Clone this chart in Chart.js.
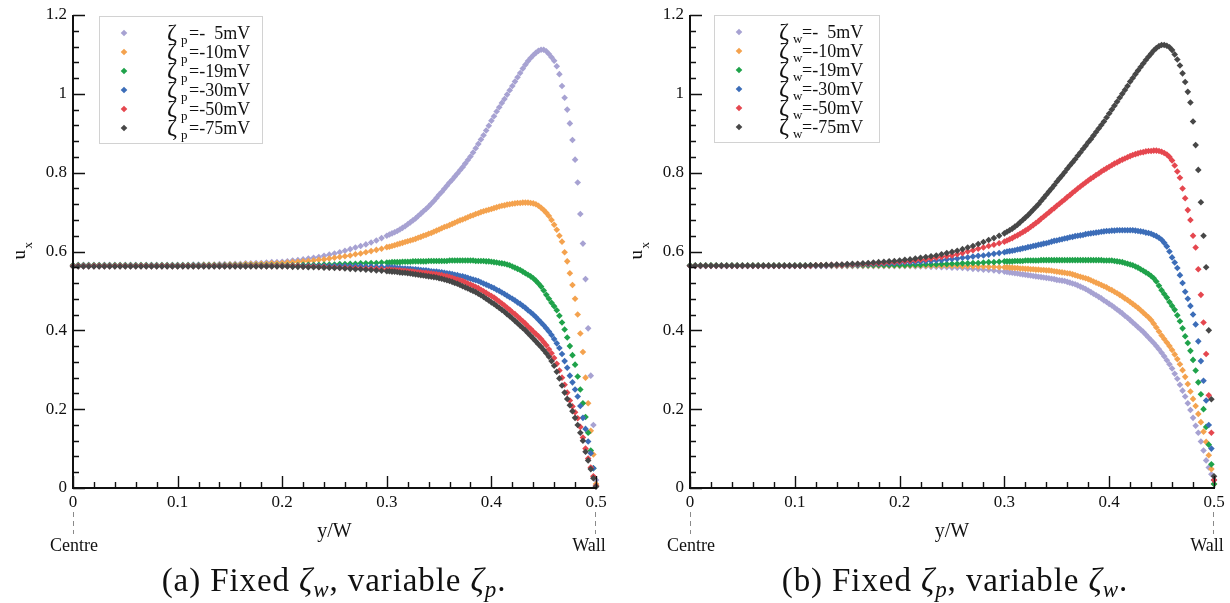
<!DOCTYPE html>
<html>
<head>
<meta charset="utf-8">
<title>Velocity profiles u_x across the half channel</title>
<script src="https://cdn.jsdelivr.net/npm/chart.js@4.4.1/dist/chart.umd.min.js"></script>
<style>
  html, body { margin: 0; padding: 0; background: #fff; }
  #wrap { position: relative; width: 1230px; height: 603px; overflow: hidden;
          font-family: "Liberation Serif", "Times New Roman", serif; color: #111; }
  canvas { position: absolute; top: 0; }
  #cA { left: 0; }
  #cB { left: 615px; }
  .cap { position: absolute; top: 562px; font-size: 33px; line-height: 36px; letter-spacing: 0.9px;
         white-space: nowrap; transform: translateX(-50%); }
  .cap sub { font-size: 23px; line-height: 0; vertical-align: -6px; }
</style>
</head>
<body>
<div id="wrap">
  <canvas id="cA" width="615" height="565"></canvas>
  <canvas id="cB" width="615" height="565"></canvas>
  <div class="cap" style="left:334px">(a) Fixed <i>ζ<sub>w</sub></i>, variable <i>ζ<sub>p</sub></i>.</div>
  <div class="cap" style="left:955px">(b) Fixed <i>ζ<sub>p</sub></i>, variable <i>ζ<sub>w</sub></i>.</div>
</div>
<script>
// y/W positions of the samples (finer from 0.3 to the wall)
const xGrid = [
  0, 0.005, 0.01, 0.015, 0.02, 0.025, 0.03, 0.035, 0.04, 0.045,
  0.05, 0.055, 0.06, 0.065, 0.07, 0.075, 0.08, 0.085, 0.09, 0.095,
  0.1, 0.105, 0.11, 0.115, 0.12, 0.125, 0.13, 0.135, 0.14, 0.145,
  0.15, 0.155, 0.16, 0.165, 0.17, 0.175, 0.18, 0.185, 0.19, 0.195,
  0.2, 0.205, 0.21, 0.215, 0.22, 0.225, 0.23, 0.235, 0.24, 0.245,
  0.25, 0.255, 0.26, 0.265, 0.27, 0.275, 0.28, 0.285, 0.29, 0.295,
  0.3, 0.3025, 0.305, 0.3075, 0.31, 0.3125, 0.315, 0.3175, 0.32, 0.3225,
  0.325, 0.3275, 0.33, 0.3325, 0.335, 0.3375, 0.34, 0.3425, 0.345, 0.3475,
  0.35, 0.3525, 0.355, 0.3575, 0.36, 0.3625, 0.365, 0.3675, 0.37, 0.3725,
  0.375, 0.3775, 0.38, 0.3825, 0.385, 0.3875, 0.39, 0.3925, 0.395, 0.3975,
  0.4, 0.4025, 0.405, 0.4075, 0.41, 0.4125, 0.415, 0.4175, 0.42, 0.4225,
  0.425, 0.4275, 0.43, 0.4325, 0.435, 0.4375, 0.44, 0.4425, 0.445, 0.4475,
  0.45, 0.4525, 0.455, 0.4575, 0.46, 0.4625, 0.465, 0.4675, 0.47, 0.4725,
  0.475, 0.4775, 0.48, 0.4825, 0.485, 0.4875, 0.49, 0.4925, 0.495, 0.4975,
  0.5,
];

const seriesLabels = ["-  5mV", "-10mV", "-19mV", "-30mV", "-50mV", "-75mV"];
const xTicks = [0, 0.1, 0.2, 0.3, 0.4, 0.5];
const xTickLabels = ["0", "0.1", "0.2", "0.3", "0.4", "0.5"];
const yTicks = [0, 0.2, 0.4, 0.6, 0.8, 1, 1.2];
const yTickLabels = ["0", "0.2", "0.4", "0.6", "0.8", "1", "1.2"];

// (a) fixed zeta_w, variable zeta_p
const aP5 = [
  0.566, 0.566, 0.566, 0.566, 0.566, 0.566, 0.566, 0.566, 0.566, 0.566,
  0.566, 0.566, 0.566, 0.566, 0.566, 0.566, 0.566, 0.566, 0.566, 0.566,
  0.566, 0.566, 0.566, 0.567, 0.567, 0.567, 0.567, 0.567, 0.568, 0.568,
  0.568, 0.569, 0.569, 0.570, 0.570, 0.571, 0.571, 0.572, 0.573, 0.573,
  0.574, 0.575, 0.577, 0.578, 0.580, 0.582, 0.584, 0.586, 0.589, 0.592,
  0.595, 0.598, 0.602, 0.606, 0.610, 0.614, 0.618, 0.623, 0.628, 0.634,
  0.640, 0.643, 0.646, 0.649, 0.652, 0.656, 0.660, 0.664, 0.669, 0.674,
  0.679, 0.684, 0.690, 0.696, 0.702, 0.708, 0.714, 0.721, 0.728, 0.736,
  0.744, 0.751, 0.759, 0.767, 0.775, 0.782, 0.790, 0.798, 0.806, 0.814,
  0.823, 0.832, 0.841, 0.851, 0.862, 0.873, 0.884, 0.895, 0.907, 0.919,
  0.932, 0.943, 0.955, 0.966, 0.977, 0.987, 0.998, 1.009, 1.020, 1.031,
  1.042, 1.053, 1.064, 1.074, 1.083, 1.091, 1.098, 1.104, 1.109, 1.112,
  1.112, 1.108, 1.101, 1.093, 1.084, 1.070, 1.050, 1.020, 0.990, 0.960,
  0.925, 0.883, 0.833, 0.775, 0.695, 0.620, 0.530, 0.405, 0.285, 0.160,
  0.020,
];
const aP10 = [
  0.565, 0.565, 0.565, 0.565, 0.565, 0.565, 0.565, 0.565, 0.565, 0.565,
  0.565, 0.565, 0.565, 0.565, 0.565, 0.565, 0.565, 0.565, 0.565, 0.565,
  0.565, 0.565, 0.565, 0.565, 0.565, 0.566, 0.566, 0.566, 0.566, 0.566,
  0.567, 0.567, 0.567, 0.568, 0.568, 0.568, 0.569, 0.569, 0.570, 0.570,
  0.571, 0.572, 0.573, 0.574, 0.575, 0.576, 0.577, 0.579, 0.580, 0.582,
  0.584, 0.586, 0.588, 0.590, 0.593, 0.595, 0.598, 0.601, 0.604, 0.607,
  0.611, 0.612, 0.614, 0.616, 0.618, 0.620, 0.622, 0.624, 0.626, 0.628,
  0.630, 0.632, 0.635, 0.637, 0.640, 0.642, 0.645, 0.647, 0.650, 0.653,
  0.656, 0.659, 0.662, 0.664, 0.667, 0.670, 0.673, 0.676, 0.679, 0.681,
  0.684, 0.687, 0.690, 0.692, 0.695, 0.697, 0.700, 0.702, 0.704, 0.706,
  0.708, 0.710, 0.712, 0.714, 0.716, 0.717, 0.719, 0.720, 0.721, 0.722,
  0.723, 0.723, 0.724, 0.724, 0.724, 0.723, 0.722, 0.720, 0.716, 0.711,
  0.705, 0.698, 0.690, 0.680, 0.668, 0.655, 0.640, 0.625, 0.598, 0.575,
  0.545, 0.515, 0.480, 0.440, 0.392, 0.345, 0.280, 0.215, 0.145, 0.085,
  0.010,
];
const aP19 = [
  0.565, 0.565, 0.565, 0.565, 0.565, 0.565, 0.565, 0.565, 0.565, 0.565,
  0.565, 0.565, 0.565, 0.565, 0.565, 0.565, 0.565, 0.565, 0.565, 0.565,
  0.565, 0.565, 0.565, 0.565, 0.565, 0.565, 0.565, 0.565, 0.565, 0.565,
  0.565, 0.565, 0.565, 0.565, 0.565, 0.565, 0.565, 0.565, 0.565, 0.565,
  0.565, 0.565, 0.565, 0.565, 0.566, 0.566, 0.566, 0.566, 0.567, 0.567,
  0.567, 0.568, 0.568, 0.569, 0.569, 0.570, 0.570, 0.571, 0.571, 0.572,
  0.572, 0.572, 0.573, 0.573, 0.573, 0.573, 0.574, 0.574, 0.574, 0.574,
  0.575, 0.575, 0.575, 0.575, 0.575, 0.575, 0.576, 0.576, 0.576, 0.576,
  0.576, 0.576, 0.576, 0.576, 0.577, 0.577, 0.577, 0.577, 0.577, 0.577,
  0.577, 0.577, 0.577, 0.577, 0.576, 0.576, 0.576, 0.576, 0.575, 0.575,
  0.574, 0.573, 0.572, 0.571, 0.570, 0.569, 0.567, 0.565, 0.562, 0.559,
  0.556, 0.553, 0.549, 0.545, 0.541, 0.537, 0.532, 0.526, 0.519, 0.511,
  0.501, 0.490, 0.480, 0.470, 0.461, 0.451, 0.437, 0.420, 0.402, 0.382,
  0.360, 0.337, 0.313, 0.283, 0.250, 0.215, 0.180, 0.140, 0.095, 0.050,
  0.005,
];
const aP30 = [
  0.564, 0.564, 0.564, 0.564, 0.564, 0.564, 0.564, 0.564, 0.564, 0.564,
  0.564, 0.564, 0.564, 0.564, 0.564, 0.564, 0.564, 0.564, 0.564, 0.564,
  0.564, 0.564, 0.564, 0.564, 0.564, 0.564, 0.564, 0.564, 0.564, 0.564,
  0.564, 0.564, 0.564, 0.564, 0.564, 0.564, 0.564, 0.564, 0.564, 0.564,
  0.564, 0.564, 0.564, 0.564, 0.564, 0.564, 0.564, 0.564, 0.564, 0.564,
  0.564, 0.564, 0.564, 0.563, 0.563, 0.563, 0.562, 0.562, 0.561, 0.561,
  0.560, 0.560, 0.559, 0.559, 0.558, 0.558, 0.557, 0.557, 0.556, 0.556,
  0.555, 0.555, 0.554, 0.553, 0.552, 0.552, 0.551, 0.550, 0.549, 0.549,
  0.548, 0.547, 0.546, 0.545, 0.544, 0.543, 0.541, 0.540, 0.538, 0.537,
  0.535, 0.533, 0.531, 0.529, 0.527, 0.525, 0.522, 0.519, 0.516, 0.513,
  0.510, 0.507, 0.503, 0.500, 0.496, 0.492, 0.488, 0.484, 0.480, 0.476,
  0.471, 0.467, 0.462, 0.457, 0.451, 0.446, 0.440, 0.434, 0.427, 0.420,
  0.413, 0.405, 0.397, 0.388, 0.378, 0.367, 0.355, 0.340, 0.322, 0.305,
  0.285, 0.268, 0.250, 0.232, 0.208, 0.178, 0.150, 0.118, 0.088, 0.050,
  0.005,
];
const aP50 = [
  0.563, 0.563, 0.563, 0.563, 0.563, 0.563, 0.563, 0.563, 0.563, 0.563,
  0.563, 0.563, 0.563, 0.563, 0.563, 0.563, 0.563, 0.563, 0.563, 0.563,
  0.563, 0.563, 0.563, 0.563, 0.563, 0.563, 0.563, 0.563, 0.563, 0.563,
  0.563, 0.563, 0.563, 0.563, 0.563, 0.563, 0.563, 0.563, 0.563, 0.563,
  0.563, 0.563, 0.563, 0.563, 0.562, 0.562, 0.562, 0.561, 0.561, 0.560,
  0.560, 0.559, 0.559, 0.558, 0.558, 0.557, 0.557, 0.556, 0.556, 0.555,
  0.554, 0.554, 0.553, 0.553, 0.552, 0.552, 0.551, 0.551, 0.550, 0.550,
  0.549, 0.548, 0.547, 0.547, 0.546, 0.546, 0.545, 0.544, 0.543, 0.542,
  0.541, 0.540, 0.538, 0.537, 0.535, 0.533, 0.531, 0.529, 0.527, 0.525,
  0.522, 0.519, 0.516, 0.513, 0.510, 0.507, 0.503, 0.499, 0.495, 0.491,
  0.487, 0.483, 0.478, 0.473, 0.468, 0.463, 0.457, 0.452, 0.446, 0.441,
  0.435, 0.429, 0.423, 0.417, 0.410, 0.404, 0.397, 0.391, 0.385, 0.378,
  0.370, 0.362, 0.352, 0.342, 0.330, 0.315, 0.298, 0.280, 0.262, 0.242,
  0.222, 0.207, 0.192, 0.177, 0.155, 0.128, 0.100, 0.075, 0.052, 0.030,
  0.005,
];
const aP75 = [
  0.562, 0.562, 0.562, 0.562, 0.562, 0.562, 0.562, 0.562, 0.562, 0.562,
  0.562, 0.562, 0.562, 0.562, 0.562, 0.562, 0.562, 0.562, 0.562, 0.562,
  0.562, 0.562, 0.562, 0.562, 0.562, 0.562, 0.562, 0.562, 0.562, 0.562,
  0.562, 0.562, 0.562, 0.562, 0.562, 0.562, 0.562, 0.562, 0.562, 0.562,
  0.562, 0.562, 0.561, 0.561, 0.561, 0.560, 0.560, 0.560, 0.559, 0.559,
  0.558, 0.558, 0.557, 0.556, 0.555, 0.555, 0.554, 0.553, 0.552, 0.551,
  0.550, 0.550, 0.549, 0.549, 0.548, 0.547, 0.546, 0.546, 0.545, 0.544,
  0.543, 0.542, 0.541, 0.540, 0.539, 0.538, 0.537, 0.536, 0.535, 0.534,
  0.532, 0.531, 0.529, 0.527, 0.525, 0.523, 0.520, 0.518, 0.515, 0.512,
  0.509, 0.506, 0.503, 0.500, 0.497, 0.493, 0.489, 0.485, 0.480, 0.476,
  0.471, 0.467, 0.462, 0.457, 0.452, 0.447, 0.441, 0.436, 0.430, 0.424,
  0.418, 0.412, 0.406, 0.400, 0.393, 0.386, 0.379, 0.372, 0.365, 0.358,
  0.350, 0.342, 0.333, 0.322, 0.310, 0.295, 0.278, 0.260, 0.242, 0.226,
  0.210, 0.195, 0.178, 0.160, 0.140, 0.120, 0.092, 0.070, 0.048, 0.025,
  0.003,
];

// (b) fixed zeta_p, variable zeta_w
const bW5 = [
  0.563, 0.563, 0.563, 0.563, 0.563, 0.563, 0.563, 0.563, 0.563, 0.563,
  0.563, 0.563, 0.563, 0.563, 0.563, 0.563, 0.563, 0.563, 0.563, 0.563,
  0.563, 0.563, 0.563, 0.563, 0.563, 0.563, 0.563, 0.563, 0.563, 0.563,
  0.563, 0.563, 0.563, 0.563, 0.563, 0.563, 0.563, 0.563, 0.563, 0.563,
  0.563, 0.563, 0.563, 0.562, 0.562, 0.562, 0.561, 0.561, 0.560, 0.560,
  0.559, 0.559, 0.558, 0.557, 0.556, 0.555, 0.554, 0.553, 0.552, 0.550,
  0.549, 0.548, 0.547, 0.546, 0.545, 0.544, 0.543, 0.542, 0.541, 0.540,
  0.539, 0.538, 0.537, 0.536, 0.535, 0.534, 0.533, 0.532, 0.531, 0.530,
  0.528, 0.527, 0.526, 0.525, 0.523, 0.521, 0.519, 0.517, 0.514, 0.511,
  0.508, 0.505, 0.501, 0.497, 0.493, 0.489, 0.485, 0.481, 0.476, 0.472,
  0.467, 0.463, 0.458, 0.453, 0.448, 0.443, 0.437, 0.432, 0.426, 0.420,
  0.414, 0.408, 0.402, 0.396, 0.389, 0.382, 0.375, 0.368, 0.360, 0.352,
  0.343, 0.334, 0.324, 0.314, 0.303, 0.290, 0.277, 0.262, 0.247, 0.232,
  0.215, 0.198, 0.178, 0.158, 0.140, 0.118, 0.095, 0.070, 0.052, 0.035,
  0.010,
];
const bW10 = [
  0.564, 0.564, 0.564, 0.564, 0.564, 0.564, 0.564, 0.564, 0.564, 0.564,
  0.564, 0.564, 0.564, 0.564, 0.564, 0.564, 0.564, 0.564, 0.564, 0.564,
  0.564, 0.564, 0.564, 0.564, 0.564, 0.564, 0.564, 0.564, 0.564, 0.564,
  0.564, 0.564, 0.564, 0.564, 0.564, 0.564, 0.564, 0.564, 0.564, 0.564,
  0.564, 0.564, 0.564, 0.564, 0.564, 0.564, 0.564, 0.564, 0.564, 0.564,
  0.564, 0.564, 0.563, 0.563, 0.563, 0.562, 0.562, 0.561, 0.561, 0.560,
  0.560, 0.560, 0.559, 0.559, 0.558, 0.558, 0.557, 0.557, 0.556, 0.556,
  0.555, 0.555, 0.554, 0.554, 0.553, 0.553, 0.552, 0.552, 0.551, 0.550,
  0.549, 0.548, 0.547, 0.546, 0.545, 0.544, 0.542, 0.540, 0.538, 0.536,
  0.534, 0.532, 0.530, 0.527, 0.524, 0.521, 0.518, 0.515, 0.512, 0.509,
  0.505, 0.502, 0.498, 0.494, 0.490, 0.486, 0.481, 0.477, 0.472, 0.467,
  0.462, 0.457, 0.451, 0.445, 0.439, 0.433, 0.426, 0.417, 0.407, 0.397,
  0.387, 0.378, 0.369, 0.360, 0.350, 0.339, 0.327, 0.314, 0.299, 0.282,
  0.264, 0.245, 0.226, 0.208, 0.188, 0.167, 0.143, 0.117, 0.083, 0.048,
  0.010,
];
const bW19 = [
  0.565, 0.565, 0.565, 0.565, 0.565, 0.565, 0.565, 0.565, 0.565, 0.565,
  0.565, 0.565, 0.565, 0.565, 0.565, 0.565, 0.565, 0.565, 0.565, 0.565,
  0.565, 0.565, 0.565, 0.565, 0.565, 0.565, 0.565, 0.565, 0.565, 0.565,
  0.565, 0.565, 0.565, 0.565, 0.565, 0.565, 0.565, 0.565, 0.565, 0.565,
  0.565, 0.565, 0.566, 0.566, 0.566, 0.567, 0.567, 0.567, 0.568, 0.568,
  0.569, 0.569, 0.570, 0.570, 0.571, 0.571, 0.572, 0.573, 0.573, 0.574,
  0.575, 0.575, 0.575, 0.575, 0.576, 0.576, 0.576, 0.576, 0.577, 0.577,
  0.577, 0.577, 0.577, 0.577, 0.578, 0.578, 0.578, 0.578, 0.578, 0.578,
  0.578, 0.578, 0.578, 0.578, 0.578, 0.578, 0.578, 0.578, 0.578, 0.578,
  0.578, 0.578, 0.578, 0.578, 0.578, 0.578, 0.578, 0.578, 0.577, 0.577,
  0.577, 0.577, 0.576, 0.575, 0.574, 0.573, 0.571, 0.569, 0.567, 0.565,
  0.562, 0.559, 0.555, 0.551, 0.547, 0.543, 0.538, 0.532, 0.524, 0.513,
  0.502, 0.492, 0.483, 0.472, 0.462, 0.452, 0.438, 0.423, 0.405, 0.385,
  0.368, 0.348, 0.325, 0.298, 0.268, 0.238, 0.200, 0.155, 0.110, 0.060,
  0.010,
];
const bW30 = [
  0.564, 0.564, 0.564, 0.564, 0.564, 0.564, 0.564, 0.564, 0.564, 0.564,
  0.564, 0.564, 0.564, 0.564, 0.564, 0.564, 0.564, 0.564, 0.564, 0.564,
  0.564, 0.564, 0.564, 0.564, 0.564, 0.564, 0.564, 0.565, 0.565, 0.565,
  0.566, 0.566, 0.566, 0.567, 0.567, 0.568, 0.568, 0.569, 0.569, 0.570,
  0.571, 0.572, 0.572, 0.573, 0.574, 0.575, 0.576, 0.577, 0.578, 0.580,
  0.581, 0.582, 0.584, 0.585, 0.587, 0.589, 0.590, 0.592, 0.594, 0.596,
  0.598, 0.600, 0.601, 0.602, 0.603, 0.605, 0.606, 0.608, 0.609, 0.611,
  0.612, 0.614, 0.615, 0.617, 0.618, 0.620, 0.621, 0.623, 0.625, 0.627,
  0.628, 0.630, 0.631, 0.633, 0.634, 0.636, 0.637, 0.639, 0.640, 0.641,
  0.642, 0.644, 0.645, 0.646, 0.647, 0.648, 0.649, 0.650, 0.651, 0.652,
  0.652, 0.653, 0.653, 0.654, 0.654, 0.654, 0.654, 0.654, 0.654, 0.654,
  0.653, 0.652, 0.651, 0.650, 0.648, 0.647, 0.645, 0.642, 0.639, 0.635,
  0.630, 0.622, 0.613, 0.600, 0.585, 0.572, 0.558, 0.540, 0.520, 0.498,
  0.480, 0.462, 0.440, 0.415, 0.372, 0.322, 0.272, 0.222, 0.160, 0.100,
  0.020,
];
const bW50 = [
  0.564, 0.564, 0.564, 0.564, 0.564, 0.564, 0.564, 0.564, 0.564, 0.564,
  0.564, 0.564, 0.564, 0.564, 0.564, 0.564, 0.564, 0.564, 0.564, 0.564,
  0.564, 0.564, 0.564, 0.564, 0.565, 0.565, 0.565, 0.566, 0.566, 0.566,
  0.567, 0.567, 0.568, 0.568, 0.569, 0.570, 0.570, 0.571, 0.572, 0.573,
  0.574, 0.575, 0.576, 0.577, 0.579, 0.580, 0.582, 0.584, 0.586, 0.588,
  0.590, 0.593, 0.596, 0.600, 0.603, 0.607, 0.610, 0.614, 0.617, 0.621,
  0.625, 0.628, 0.631, 0.634, 0.638, 0.641, 0.645, 0.649, 0.653, 0.657,
  0.662, 0.667, 0.672, 0.677, 0.683, 0.688, 0.694, 0.699, 0.705, 0.710,
  0.716, 0.721, 0.727, 0.732, 0.738, 0.743, 0.749, 0.754, 0.760, 0.765,
  0.770, 0.775, 0.780, 0.785, 0.789, 0.794, 0.798, 0.803, 0.807, 0.811,
  0.815, 0.819, 0.823, 0.826, 0.830, 0.833, 0.836, 0.839, 0.842, 0.845,
  0.847, 0.849, 0.851, 0.852, 0.854, 0.855, 0.855, 0.856, 0.856, 0.855,
  0.853, 0.850, 0.846, 0.840, 0.831, 0.818, 0.803, 0.787, 0.760, 0.735,
  0.705, 0.680, 0.640, 0.610, 0.555, 0.490, 0.420, 0.340, 0.235, 0.140,
  0.020,
];
const bW75 = [
  0.564, 0.564, 0.564, 0.564, 0.564, 0.564, 0.564, 0.564, 0.564, 0.564,
  0.564, 0.564, 0.564, 0.564, 0.564, 0.564, 0.564, 0.564, 0.564, 0.564,
  0.564, 0.564, 0.564, 0.565, 0.565, 0.565, 0.566, 0.566, 0.567, 0.567,
  0.568, 0.569, 0.569, 0.570, 0.571, 0.572, 0.573, 0.574, 0.575, 0.576,
  0.577, 0.579, 0.580, 0.582, 0.584, 0.586, 0.588, 0.590, 0.593, 0.596,
  0.599, 0.602, 0.606, 0.610, 0.614, 0.619, 0.624, 0.629, 0.634, 0.640,
  0.646, 0.650, 0.654, 0.658, 0.663, 0.668, 0.674, 0.680, 0.686, 0.692,
  0.699, 0.706, 0.713, 0.720, 0.728, 0.736, 0.744, 0.752, 0.760, 0.768,
  0.777, 0.785, 0.793, 0.801, 0.810, 0.818, 0.826, 0.834, 0.843, 0.851,
  0.860, 0.868, 0.877, 0.885, 0.894, 0.903, 0.912, 0.921, 0.930, 0.940,
  0.950, 0.960, 0.970, 0.980, 0.990, 1.000, 1.010, 1.020, 1.031, 1.040,
  1.050, 1.059, 1.068, 1.077, 1.086, 1.094, 1.102, 1.110, 1.116, 1.121,
  1.124, 1.124, 1.122, 1.118, 1.111, 1.100, 1.087, 1.072, 1.052, 1.030,
  1.005, 0.978, 0.930, 0.870, 0.807, 0.725, 0.640, 0.560, 0.400, 0.225,
  0.030,
];

const palette = ["#a7a2d2", "#f4a24e", "#1fa24a", "#3c6db8", "#e5474f", "#474747"];
const SERIF = "'Liberation Serif', 'Times New Roman', serif";

// Tecplot-like frame: inward ticks, labels, legend with subscripted zeta.
const tecplotFrame = {
  id: "tecplotFrame",
  afterDatasetsDraw(chart, args, opt) {
    const { ctx, chartArea: { left, right, top, bottom } } = chart;
    const xs = chart.scales.x, ys = chart.scales.y;
    ctx.save();

    ctx.strokeStyle = "#111";
    ctx.lineWidth = 2;
    ctx.beginPath();
    ctx.moveTo(left, top);
    ctx.lineTo(left, bottom);
    ctx.lineTo(right + 1, bottom);
    ctx.stroke();

    ctx.lineWidth = 1.4;
    ctx.beginPath();
    for (let k = 0; k <= 25; k++) {
      const px = Math.round(xs.getPixelForValue(k * 0.02)) + 0.5;
      const len = k % 5 ? 6 : 12;
      ctx.moveTo(px, bottom);
      ctx.lineTo(px, bottom - len);
    }
    for (let k = 0; k <= 30; k++) {
      const py = Math.round(ys.getPixelForValue(k * 0.04)) + 0.5;
      const len = k % 5 ? 6 : 12;
      ctx.moveTo(left, py);
      ctx.lineTo(left + len, py);
    }
    ctx.stroke();

    ctx.fillStyle = "#111";
    ctx.font = "17px " + SERIF;
    ctx.textAlign = "center";
    ctx.textBaseline = "top";
    xTicks.forEach((v, i) => ctx.fillText(xTickLabels[i], xs.getPixelForValue(v), bottom + 6));
    ctx.textAlign = "right";
    ctx.textBaseline = "middle";
    yTicks.forEach((v, i) => ctx.fillText(yTickLabels[i], left - 6, ys.getPixelForValue(v)));

    // axis titles
    ctx.textBaseline = "alphabetic";
    ctx.textAlign = "center";
    ctx.font = "20px " + SERIF;
    ctx.fillText("y/W", (left + right) / 2, bottom + 49);
    ctx.font = "18px " + SERIF;
    ctx.fillText("Centre", left + 1, bottom + 63);
    ctx.fillText("Wall", right - 7, bottom + 63);

    ctx.save();
    ctx.translate(left - 53, (top + bottom) / 2 + 2);
    ctx.rotate(-Math.PI / 2);
    ctx.textAlign = "left";
    ctx.font = "19px " + SERIF;
    ctx.fillText("u", -6, 5);
    ctx.font = "13px " + SERIF;
    ctx.fillText("x", 5, 12);
    ctx.restore();

    ctx.strokeStyle = "#8a8a8a";
    ctx.lineWidth = 1;
    ctx.setLineDash([5, 4]);
    ctx.beginPath();
    [left, right - 1].forEach((px) => {
      ctx.moveTo(px + 0.5, bottom + 24);
      ctx.lineTo(px + 0.5, bottom + 46);
    });
    ctx.stroke();
    ctx.setLineDash([]);

    // legend
    const L = opt.legend;
    ctx.fillStyle = "#fff";
    ctx.fillRect(L.x, L.y, L.w, L.h);
    ctx.strokeStyle = "#d2d2d2";
    ctx.strokeRect(L.x + 0.5, L.y + 0.5, L.w, L.h);
    seriesLabels.forEach((lab, i) => {
      const cy = L.y + 17 + i * 19;
      ctx.fillStyle = palette[i];
      ctx.beginPath();
      ctx.moveTo(L.markX, cy - 3.3);
      ctx.lineTo(L.markX + 3.3, cy);
      ctx.lineTo(L.markX, cy + 3.3);
      ctx.lineTo(L.markX - 3.3, cy);
      ctx.closePath();
      ctx.fill();
      ctx.fillStyle = "#111";
      ctx.textAlign = "left";
      ctx.font = "24px " + SERIF;
      ctx.fillText("ζ", L.zetaX, cy + 7);
      ctx.font = "13px " + SERIF;
      ctx.fillText(opt.sub, L.zetaX + L.subDx, cy + 11);
      ctx.font = "18px " + SERIF;
      ctx.fillText("=" + lab, L.zetaX + L.eqDx, cy + 6);
    });

    ctx.restore();
  },
};

function makePanel(canvasId, series, sub, padLeft, padRight, legend) {
  return new Chart(document.getElementById(canvasId), {
    type: "scatter",
    data: {
      datasets: series.map((ys, i) => ({
        label: "ζ" + sub + "=" + seriesLabels[i],
        data: xGrid.map((x, j) => ({ x, y: ys[j] })),
        pointStyle: "rectRot",
        pointRadius: 3.3,
        backgroundColor: palette[i],
        borderColor: palette[i],
        pointBorderWidth: 0,
        order: series.length - i,
        clip: false,
      })),
    },
    options: {
      responsive: false,
      animation: false,
      events: [],
      layout: { padding: { left: padLeft, right: padRight, top: 15, bottom: 77 } },
      scales: {
        x: { type: "linear", min: 0, max: 0.5, display: false },
        y: { type: "linear", min: 0, max: 1.2, display: false },
      },
      plugins: {
        legend: { display: false },
        tooltip: { enabled: false },
        tecplotFrame: { sub, legend },
      },
    },
    plugins: [tecplotFrame],
  });
}

makePanel("cA", [aP5, aP10, aP19, aP30, aP50, aP75], "p", 73, 19,
  { x: 99, y: 16, w: 163, h: 127, markX: 124, zetaX: 167, subDx: 14, eqDx: 22 });
makePanel("cB", [bW5, bW10, bW19, bW30, bW50, bW75], "w", 75, 16,
  { x: 99, y: 15, w: 165, h: 127, markX: 124, zetaX: 164, subDx: 14, eqDx: 23 });
</script>
</body>
</html>
